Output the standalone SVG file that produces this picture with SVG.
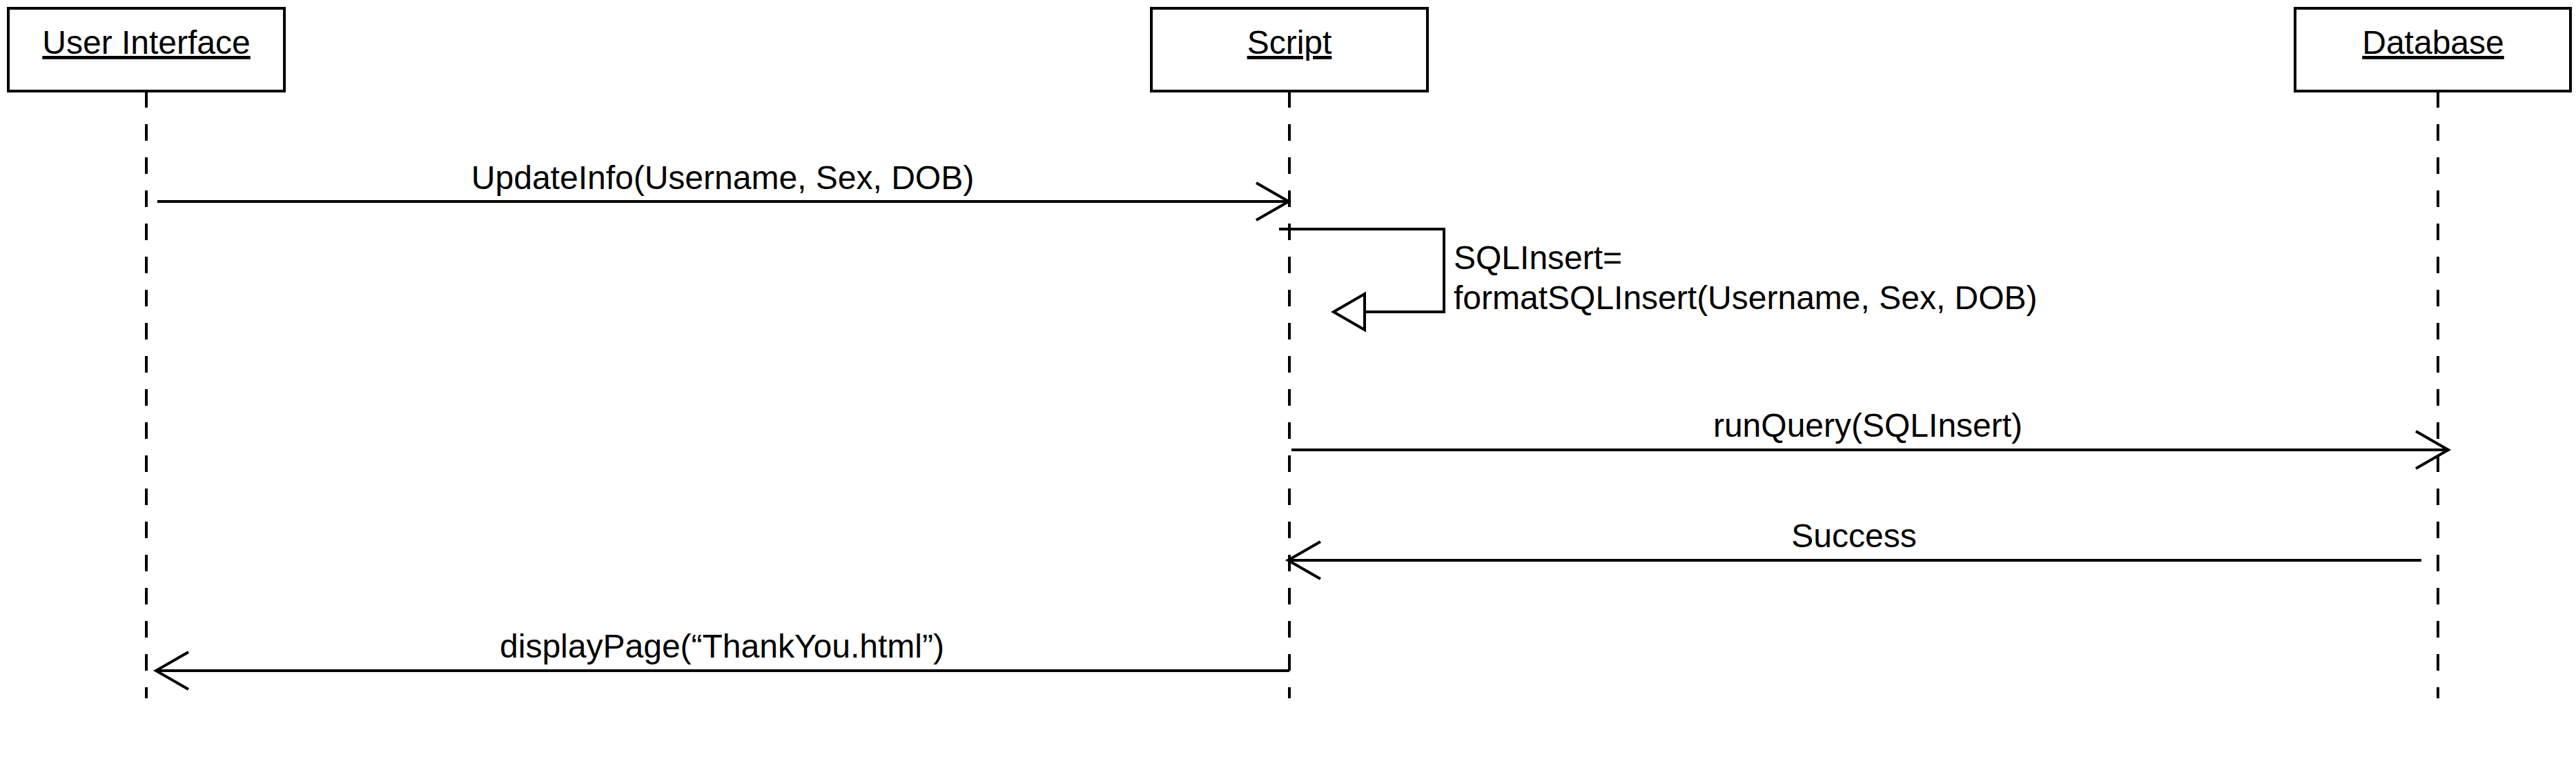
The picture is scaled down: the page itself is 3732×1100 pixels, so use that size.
<svg xmlns="http://www.w3.org/2000/svg" width="3732" height="1100" viewBox="0 0 3732 1100">
  <style>
    .box { fill: #ffffff; stroke: #000000; stroke-width: 4; }
    .title { font-family: "Liberation Sans", Arial, sans-serif; font-size: 48px; fill: #000000; text-anchor: middle; text-decoration: underline; }
    .life { stroke: #000000; stroke-width: 4; stroke-dasharray: 24 24; fill: none; }
    .msg { stroke: #000000; stroke-width: 4; fill: none; }
    .lbl { font-family: "Liberation Sans", Arial, sans-serif; font-size: 48px; fill: #000000; }
    .mid { text-anchor: middle; }
  </style>
  <defs>
    <marker id="open" markerUnits="userSpaceOnUse" markerWidth="60" markerHeight="70" refX="50" refY="30" orient="auto" overflow="visible">
      <path d="M3,3 L50,30 L3,57" fill="none" stroke="#000000" stroke-width="4"/>
    </marker>
    <marker id="tri" markerUnits="userSpaceOnUse" markerWidth="50" markerHeight="60" refX="0" refY="26" orient="auto" overflow="visible">
      <path d="M0,0 L45,26 L0,52 Z" fill="#ffffff" stroke="#000000" stroke-width="4"/>
    </marker>
  </defs>
  <rect width="3732" height="1100" fill="#ffffff"/>

  <g id="node-user-interface">
    <rect class="box" x="12" y="12" width="400" height="120"/>
    <text class="title" x="212" y="78">User Interface</text>
    <line class="life" x1="212" y1="132" x2="212" y2="1012"/>
  </g>
  <g id="node-script">
    <rect class="box" x="1668" y="12" width="400" height="120"/>
    <text class="title" x="1868" y="78">Script</text>
    <line class="life" x1="1868" y1="132" x2="1868" y2="1012"/>
  </g>
  <g id="node-database">
    <rect class="box" x="3325" y="12" width="399" height="120"/>
    <text class="title" x="3525" y="78">Database</text>
    <line class="life" x1="3532" y1="132" x2="3532" y2="1012"/>
  </g>

  <g id="connectors">
    <line class="msg" x1="228" y1="292" x2="1867" y2="292" marker-end="url(#open)"/>
    <text class="lbl mid" x="1047" y="274">UpdateInfo(Username, Sex, DOB)</text>

    <polyline class="msg" points="1853,332 2092,332 2092,452 1977,452" marker-end="url(#tri)"/>
    <text class="lbl" x="2106" y="390">SQLInsert=</text>
    <text class="lbl" x="2106" y="448">formatSQLInsert(Username, Sex, DOB)</text>

    <line class="msg" x1="1871" y1="652" x2="3547" y2="652" marker-end="url(#open)"/>
    <text class="lbl mid" x="2706" y="633">runQuery(SQLInsert)</text>

    <line class="msg" x1="3508" y1="812" x2="1866" y2="812" marker-end="url(#open)"/>
    <text class="lbl mid" x="2686" y="793">Success</text>

    <line class="msg" x1="1868" y1="972" x2="226" y2="972" marker-end="url(#open)"/>
    <text class="lbl mid" x="1046" y="953">displayPage(“ThankYou.html”)</text>
  </g>
</svg>
